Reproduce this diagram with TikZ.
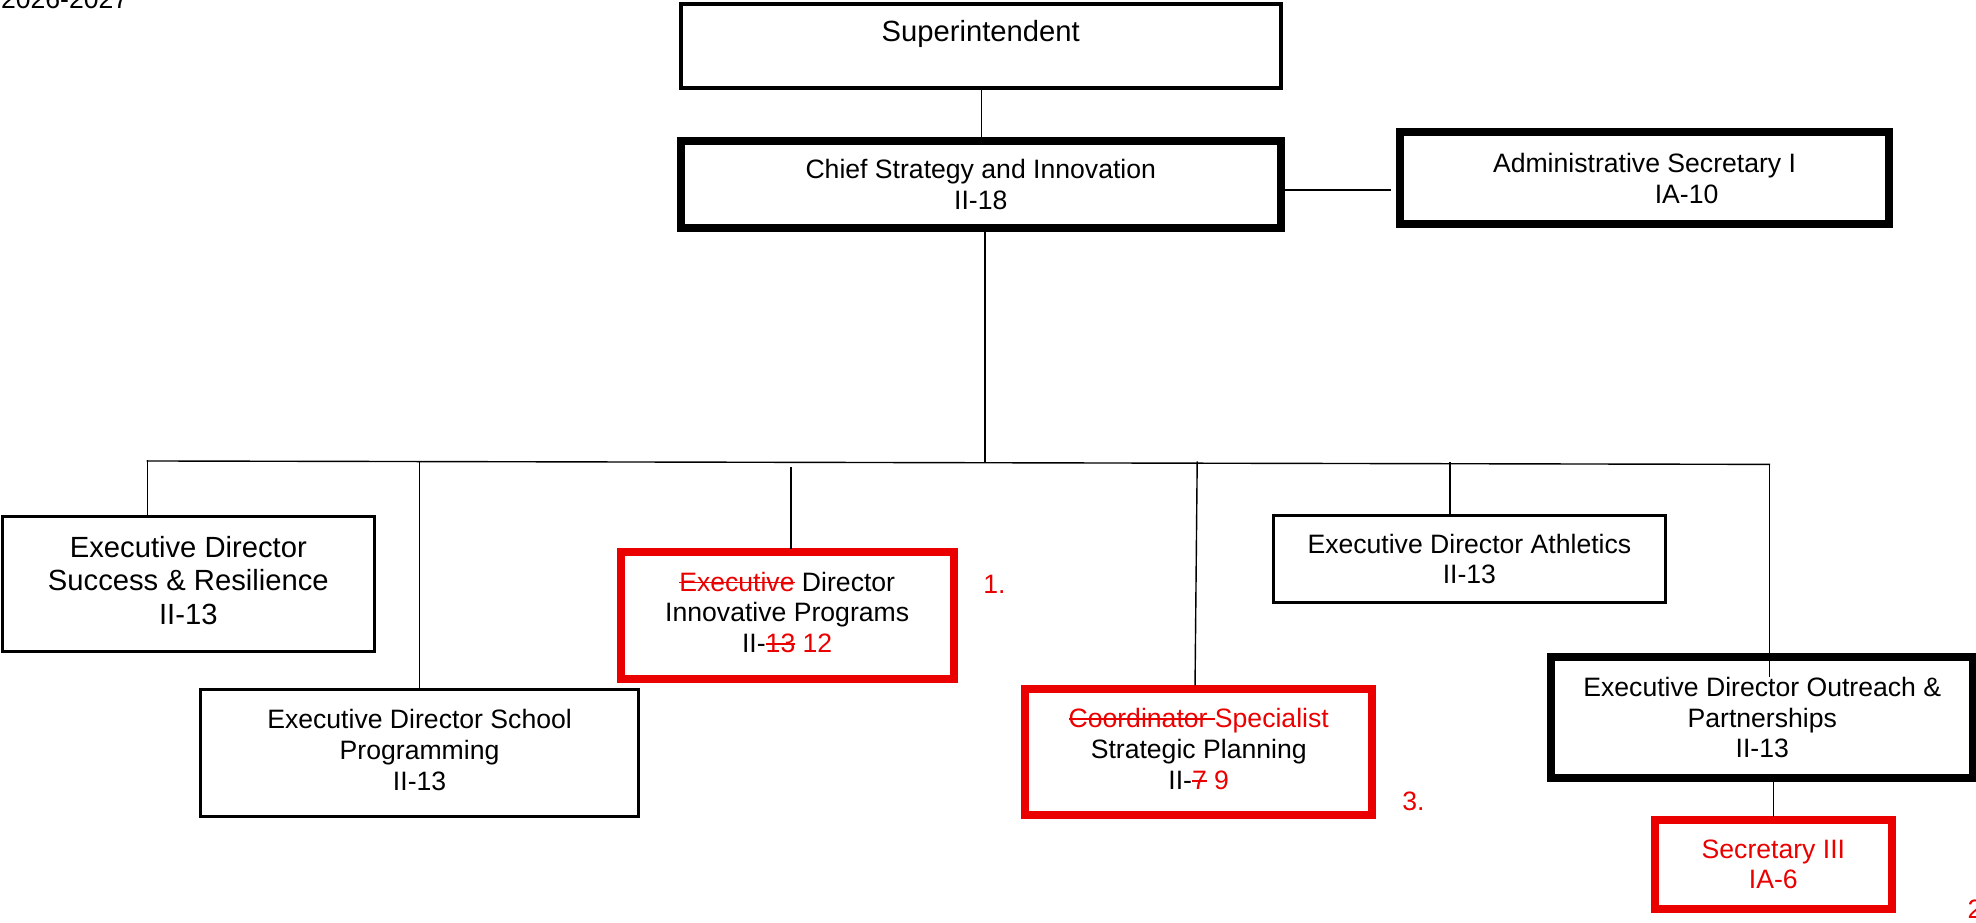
\documentclass[tikz,border=0pt]{standalone}
\usepackage{fontspec}
\setmainfont{Liberation Sans}
\definecolor{rd}{RGB}{235,0,0}
\newcommand\fs{\fontsize{13.3}{15.4}\selectfont}
\newcommand\fb{\fontsize{14.6}{16.8}\selectfont}
\newcommand\strk[1]{{\setbox0\hbox{#1}\rlap{\rule[0.29em]{\wd0}{0.065em}}\box0}}
\tikzset{
  u/.style 2 args={minimum width=#1*0.63pt, minimum height=#2*0.63pt},
  orgbox/.style={draw, rectangle, inner sep=0pt, align=center, font=\fs},
  thinbox/.style={orgbox, line width=1.5pt},
  thickbox/.style={orgbox, line width=4pt},
  redbox/.style={orgbox, line width=4pt, draw=rd},
  conn/.style={line width=0.7pt, line cap=rect},
  note/.style={font=\fs, text=rd, anchor=base west, inner sep=0pt},
}
\begin{document}
\begin{tikzpicture}[x=0.63pt, y=-0.63pt]
\useasboundingbox (0,0) rectangle (1568,732);

\node[font=\fs, anchor=base west, inner sep=0pt] (year) at (0.5,7) {2026-2027};

% boxes
\node[orgbox, line width=2pt, u={476.5}{66}] (sup) at (778.25,36.5) {};
\node[font=\fb, anchor=base, inner sep=0pt] (suptext) at (778.25,33) {Superintendent};
\node[thickbox, u={476.5}{69}] (chief) at (778.25,146.5) {Chief Strategy and Innovation\\II-18};
\node[thickbox, u={388}{72.8}] (admin) at (1305,141.4) {Administrative Secretary I\\\hspace*{42pt}IA-10};

\node[thinbox, font=\fb, text depth=3.8pt, u={295.5}{107}] (succ) at (149.45,463.5) {Executive Director\\Success \& Resilience\\II-13};
\node[thinbox, text depth=3.2pt, u={347.3}{100.5}] (school) at (332.95,597.75) {Executive Director School\\Programming\\II-13};
\node[redbox, text depth=3.2pt, u={264.3}{100.3}] (innov) at (624.65,488.45)
  {\textcolor{rd}{\strk{Executive}} Director\\Innovative Programs\\II-\textcolor{rd}{\strk{13} 12}};
\node[redbox, text depth=3.2pt, u={275}{100.5}] (strat) at (951.2,596.75)
  {\textcolor{rd}{\strk{Coordinator\ }Specialist}\\Strategic Planning\\II-\textcolor{rd}{\strk{7} 9}};
\node[thinbox, u={311.5}{69.5}] (ath) at (1166,443.5) {Executive Director Athletics\\II-13};
\node[thickbox, u={335.1}{96.5}] (out) at (1398.4,569.35) {Executive Director Outreach \&\\Partnerships\\II-13};
\node[redbox, text=rd, u={187.8}{70.4}] (sec) at (1407.2,685.9) {Secretary III\\IA-6};

% notes
\node[note] (n1) at (780,470.6) {1.};
\node[note] (n3) at (1112.5,643.5) {3.};
\node[note] (n2) at (1561,729) {2};

% junctions
\coordinate (ca) at (1103,150.8);
\coordinate (j0) at (781.6,367.2);
\coordinate (j1) at (117,365.8);
\coordinate (j2) at (333,366.3);
\coordinate (j3) at (627.8,371.5);
\coordinate (j4) at (950,366.6);
\coordinate (j5) at (1150.6,366.8);
\coordinate (j6) at (1404,368.5);
\coordinate (k6) at (1404,537);

% connectors
\draw[conn] (sup.south -| 779,0) -- (chief.north -| 779,0);
\draw[conn] (chief.east |- ca) -- (ca);
\draw[conn] (chief.south -| j0) -- (j0);
\draw[conn] (j1) -- (j6);
\draw[conn] (j1) -- (j1 |- succ.north);
\draw[conn] (j2) -- (j2 |- school.north);
\draw[conn] (j3) -- (j3 |- innov.north);
\draw[conn] (j4) -- ([xshift=-1.83pt]strat.north);
\draw[conn] (j5) -- (j5 |- ath.north);
\draw[conn] (j6) -- (k6);
\draw[conn] (sec.north |- out.south) -- (sec.north);
\end{tikzpicture}
\end{document}
